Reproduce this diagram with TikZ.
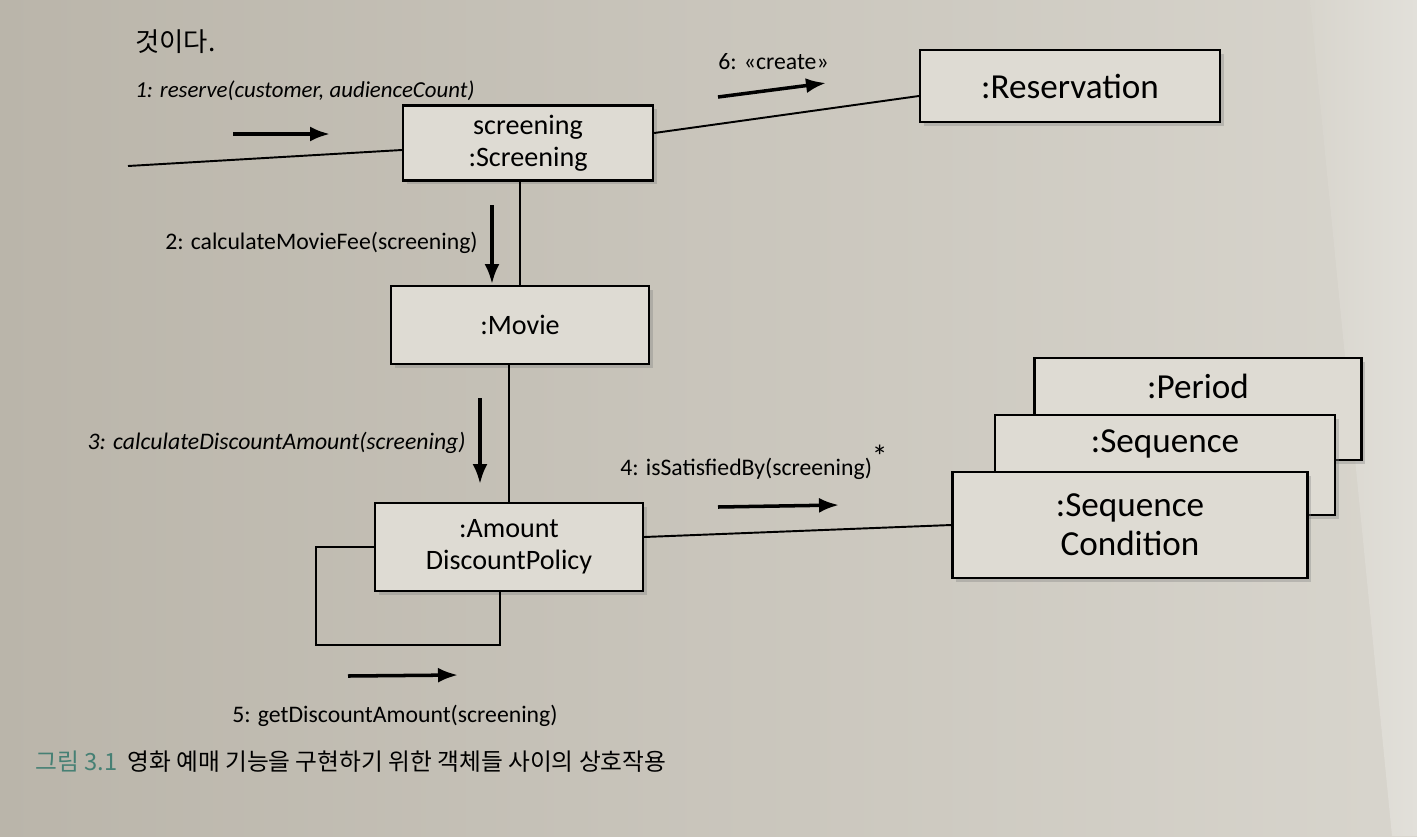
\documentclass[tikz,border=0pt]{standalone}
\usepackage{fontspec}
\setmainfont{Carlito}
\newfontfamily\kr{Noto Sans CJK KR}
\usetikzlibrary{arrows.meta,shadows}

\definecolor{paperL}{RGB}{186,181,170}
\definecolor{paperR}{RGB}{216,213,205}
\definecolor{paperW}{RGB}{226,224,218}
\definecolor{boxfill}{RGB}{222,219,211}
\definecolor{captiongreen}{RGB}{70,128,116}

\newcommand\lblfont{\fontsize{13.5}{16}\selectfont}

\tikzset{
  obj/.style={draw, line width=1.3pt, fill=boxfill, align=center, inner sep=0pt,
              font=\fontsize{16}{18}\selectfont,
              drop shadow={shadow xshift=0.7mm, shadow yshift=-0.7mm, opacity=0.35}},
  big/.style={font=\fontsize{20}{22}\selectfont},
  link/.style={line width=1.1pt},
  msg/.style={line width=2pt, -{Latex[length=4mm,width=3mm]}},
  lbl/.style={inner sep=0pt, font=\lblfont},
  itlbl/.style={inner sep=0pt, font=\lblfont\itshape}
}

\begin{document}
\begin{tikzpicture}[x=0.2mm,y=-0.2mm]
  \useasboundingbox (0,0) rectangle (1417,836);
  \shade[left color=paperL, right color=paperR] (0,0) rectangle (1417,836);
  \shade[left color=paperR, right color=paperW] (1310,0) -- (1417,0) -- (1417,836) -- (1392,836) -- cycle;

  \node[anchor=west, inner sep=0pt, font=\kr\fontsize{15}{18}\selectfont] (prev) at (135,42) {것이다.};

  \node[obj, minimum width=50mm,   minimum height=15mm]   (scr)  at (528,143)  {screening\\:Screening};
  \node[obj, big, minimum width=60mm, minimum height=14.4mm] (res) at (1070,86) {:Reservation};
  \node[obj, minimum width=51.6mm, minimum height=15.6mm] (mov)  at (520,325)  {:Movie};
  \node[obj, minimum width=53.6mm, minimum height=17.6mm] (amt)  at (509,547)  {:Amount\\DiscountPolicy};
  \node[obj, minimum width=65.4mm, minimum height=20.4mm,
        label={[big, anchor=center, yshift=-6mm]north::Period}]   (per)  at (1198,409) {};
  \node[obj, minimum width=68mm,   minimum height=20mm,
        label={[big, anchor=center, yshift=-6mm]north::Sequence}] (seq)  at (1165,465) {};
  \node[obj, big, minimum width=71mm, minimum height=21.2mm] (cond) at (1130,525) {:Sequence\\Condition};

  \coordinate (in)   at (128,166);
  \coordinate (loop) at (316,645);
  \draw[link] (in) -- ([yshift=-1.4mm]scr.west);
  \draw[link] ([yshift=2mm]scr.east) -- ([yshift=-2mm]res.west);
  \draw[link] (scr.south -| mov.north) -- (mov.north);
  \draw[link] (mov.south -| amt.north) -- (amt.north);
  \draw[link] ([yshift=2mm]amt.east) -- (cond.west);
  \draw[link] (amt.west) -| (loop) -| ([xshift=-1.8mm]amt.south);

  \draw[msg] (233,134) -- (330,134);
  \draw[msg] (718,97)  -- (826,83);
  \draw[msg] (492,205) -- (492,284);
  \draw[msg] (480,398) -- (480,484);
  \draw[msg] (718,507) -- (839,505);
  \draw[msg] (348,676) -- (458,675);

  \node[itlbl, anchor=west, font=\fontsize{13}{16}\selectfont\itshape] (m1) at (135,91) {1: reserve(customer, audienceCount)};
  \node[lbl,   anchor=east] (m2) at (478,243) {2: calculateMovieFee(screening)};
  \node[itlbl, anchor=east] (m3) at (466,443) {3: calculateDiscountAmount(screening)};
  \node[lbl,   anchor=west] (m4) at (620,462) {4: isSatisfiedBy(screening)\raisebox{.7ex}{\fontsize{18}{18}\selectfont *}};
  \node[lbl]                (m5) at (395,716) {5: getDiscountAmount(screening)};
  \node[lbl,   anchor=west] (m6) at (718,62)  {6: «create»};

  \node[anchor=west, inner sep=0pt, font=\kr\fontsize{13.5}{16}\selectfont] (cap) at (35,762)
       {\textcolor{captiongreen}{그림 3.1}\hspace{2mm}영화 예매 기능을 구현하기 위한 객체들 사이의 상호작용};
\end{tikzpicture}
\end{document}
